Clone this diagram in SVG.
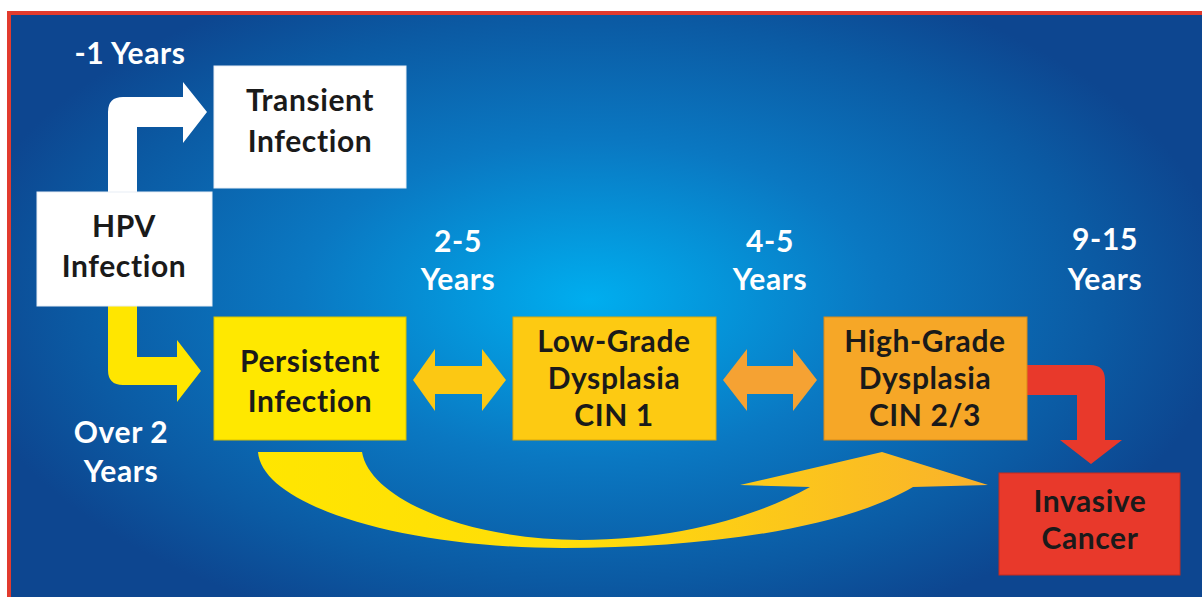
<svg xmlns="http://www.w3.org/2000/svg" width="1202" height="597" viewBox="0 0 1202 597">
  <defs>
    <radialGradient id="bg" gradientUnits="userSpaceOnUse" cx="590" cy="300" r="640" gradientTransform="translate(590 300) scale(1 0.55) translate(-590 -300)">
      <stop offset="0" stop-color="#00aeef"/>
      <stop offset="0.45" stop-color="#0a78c2"/>
      <stop offset="0.8" stop-color="#0b5aa3"/>
      <stop offset="1" stop-color="#0d4690"/>
    </radialGradient>
    <linearGradient id="curve" gradientUnits="userSpaceOnUse" x1="258" y1="0" x2="988" y2="0">
      <stop offset="0" stop-color="#ffe600"/>
      <stop offset="0.45" stop-color="#ffdc0a"/>
      <stop offset="1" stop-color="#f9b12c"/>
    </linearGradient>
    <style>
      .lbl { font-family: Lato, "Open Sans", "Liberation Sans", sans-serif; font-weight: 700; font-size: 30px; letter-spacing: 0.6px; text-anchor: middle; }
      .wt { fill: #ffffff; }
      .bk { fill: #1a1a1a; }
      .box { stroke-width: 1; }
    </style>
  </defs>

  <rect x="0" y="0" width="1202" height="597" fill="#ffffff"/>
  <rect x="7" y="11" width="1195" height="586" fill="#e23b2e"/>
  <rect x="11" y="15" width="1191" height="582" fill="url(#bg)"/>

  <g id="connectors">
    <path id="c-hpv-transient" d="M 108 192 L 108 112 Q 108 97 123 97 L 183 97 L 183 82 L 207 112 L 183 143 L 183 127 L 137 127 L 137 192 Z" fill="#ffffff"/>
    <path id="c-hpv-persistent" d="M 108 306 L 108 370 Q 108 385 123 385 L 177 385 L 177 402 L 201 371 L 177 340 L 177 357 L 137 357 L 137 306 Z" fill="#ffe600"/>
    <path id="c-persistent-low" d="M 413 380 L 435 349 L 435 366 L 482 366 L 482 349 L 506 380 L 482 411 L 482 394 L 435 394 L 435 411 Z" fill="#fcc813"/>
    <path id="c-low-high" d="M 723 380 L 747 349 L 747 366 L 793 366 L 793 349 L 817 380 L 793 411 L 793 394 L 747 394 L 747 411 Z" fill="#f5a233"/>
    <path id="c-high-invasive" d="M 1027 365 L 1090 365 Q 1105 365 1105 380 L 1105 440 L 1122 440 L 1091 464 L 1060 440 L 1077 440 L 1077 395 L 1027 395 Z" fill="#e8392b"/>
    <path id="c-persistent-high" d="M 258 452 L 362 452 C 370 500 470 540 580 540 C 680 540 760 515 810 487 L 740 485 L 882 452 L 988 485 L 913 487 C 840 530 700 548 563 548 C 400 548 262 505 258 452 Z" fill="url(#curve)"/>
  </g>

  <g id="label-1yr">
    <text class="lbl wt" x="130" y="64">-1 Years</text>
  </g>
  <g id="label-over2">
    <text class="lbl wt" x="121" y="443">Over 2</text>
    <text class="lbl wt" x="121" y="482">Years</text>
  </g>
  <g id="label-2-5">
    <text class="lbl wt" x="458" y="252">2-5</text>
    <text class="lbl wt" x="458" y="290">Years</text>
  </g>
  <g id="label-4-5">
    <text class="lbl wt" x="770" y="252">4-5</text>
    <text class="lbl wt" x="770" y="290">Years</text>
  </g>
  <g id="label-9-15">
    <text class="lbl wt" x="1105" y="250">9-15</text>
    <text class="lbl wt" x="1105" y="290">Years</text>
  </g>

  <g id="node-transient">
    <rect class="box" x="214" y="66" width="192" height="122" fill="#ffffff" stroke="#e8eef5"/>
    <text class="lbl bk" x="310" y="111">Transient</text>
    <text class="lbl bk" x="310" y="152">Infection</text>
  </g>
  <g id="node-hpv">
    <rect class="box" x="37" y="192" width="175" height="114" fill="#ffffff" stroke="#e8eef5"/>
    <text class="lbl bk" x="124" y="237">HPV</text>
    <text class="lbl bk" x="124" y="277">Infection</text>
  </g>
  <g id="node-persistent">
    <rect class="box" x="214" y="317" width="192" height="123" fill="#ffe800" stroke="#d8c200"/>
    <text class="lbl bk" x="310" y="372">Persistent</text>
    <text class="lbl bk" x="310" y="412">Infection</text>
  </g>
  <g id="node-low">
    <rect class="box" x="513" y="317" width="203" height="123" fill="#fdca12" stroke="#d9a80a"/>
    <text class="lbl bk" x="614" y="352">Low-Grade</text>
    <text class="lbl bk" x="614" y="389">Dysplasia</text>
    <text class="lbl bk" x="614" y="426">CIN 1</text>
  </g>
  <g id="node-high">
    <rect class="box" x="824" y="317" width="203" height="123" fill="#f6a727" stroke="#d78a1a"/>
    <text class="lbl bk" x="925" y="352">High-Grade</text>
    <text class="lbl bk" x="925" y="389">Dysplasia</text>
    <text class="lbl bk" x="925" y="426">CIN 2/3</text>
  </g>
  <g id="node-invasive">
    <rect class="box" x="999" y="473" width="181" height="102" fill="#e8392b" stroke="#c62a1f"/>
    <text class="lbl bk" x="1090" y="512">Invasive</text>
    <text class="lbl bk" x="1090" y="549">Cancer</text>
  </g>
</svg>
